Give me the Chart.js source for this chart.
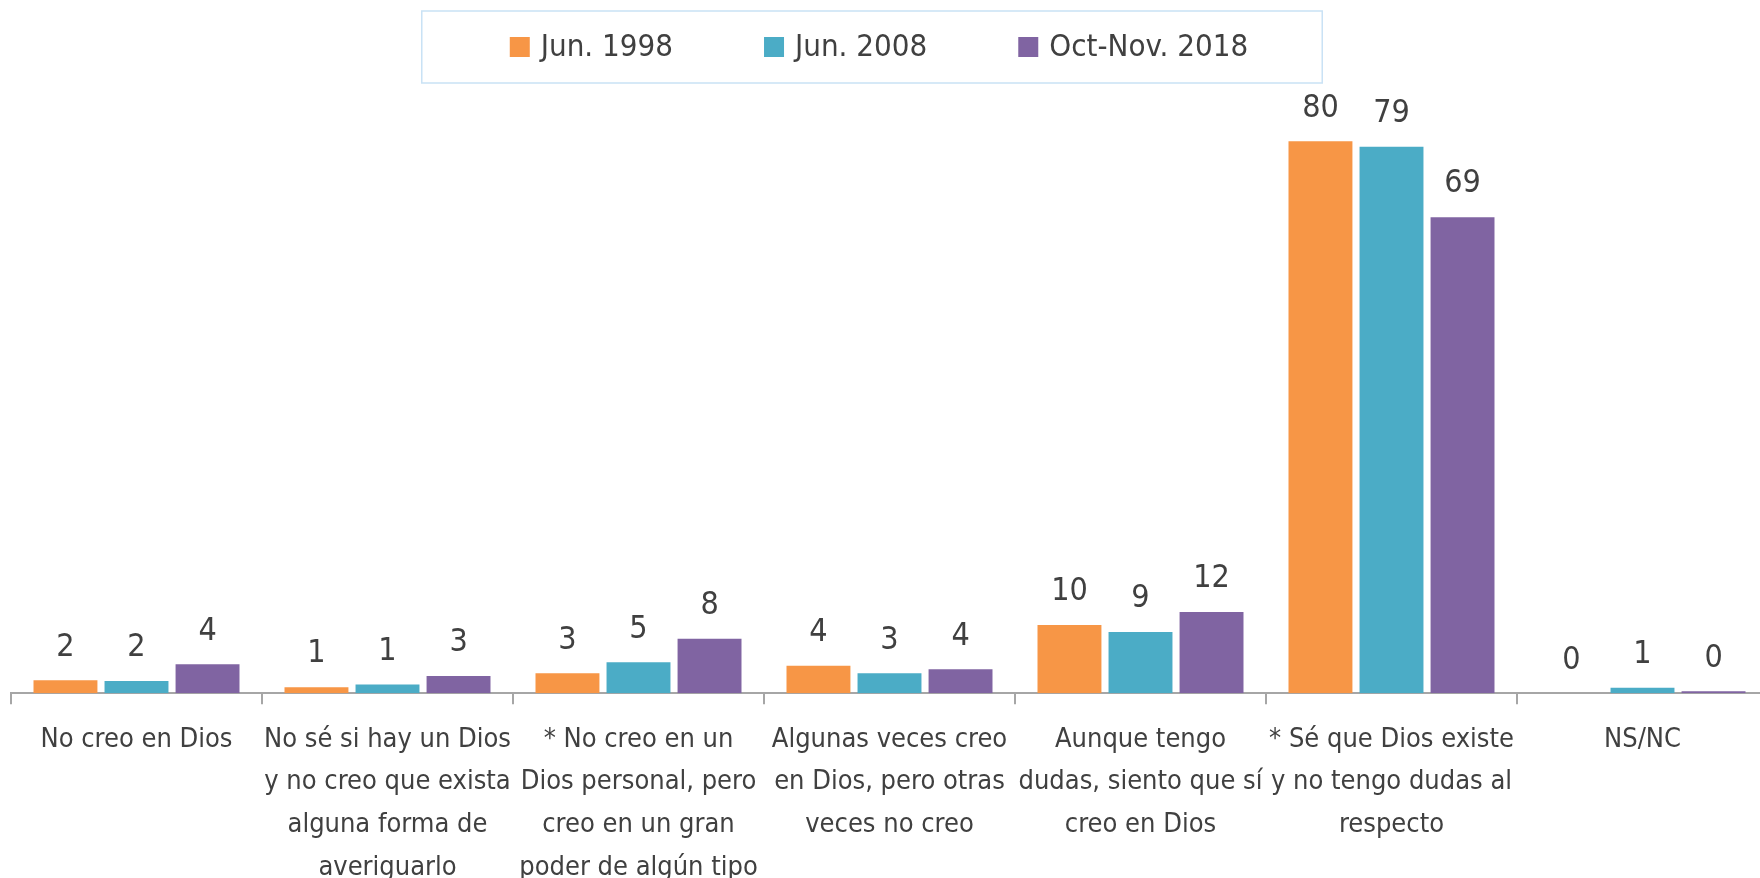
<!DOCTYPE html>
<html>
<head>
<meta charset="utf-8">
<script src="https://cdn.jsdelivr.net/npm/chart.js@4/dist/chart.umd.min.js"></script>
<style>
  html, body { margin: 0; padding: 0; background: #fff; overflow: hidden; width: 1760px; height: 878px; }
  #wrap { position: relative; width: 1770px; height: 903px; }
</style>
</head>
<body>
<div id="wrap"><canvas id="chart" width="1770" height="903"></canvas></div>
<script>
// ---------- data ----------
const categories = [
  ["No creo en Dios"],
  ["No sé si hay un Dios", "y no creo que exista", "alguna forma de", "averiguarlo"],
  ["* No creo en un", "Dios personal, pero", "creo en un gran", "poder de algún tipo"],
  ["Algunas veces creo", "en Dios, pero otras", "veces no creo"],
  ["Aunque tengo", "dudas, siento que sí", "creo en Dios"],
  ["* Sé que Dios existe", "y no tengo dudas al", "respecto"],
  ["NS/NC"]
];
const seriesNames = ["Jun. 1998", "Jun. 2008", "Oct-Nov. 2018"];
const jun1998 = [1.9, 0.9, 2.9, 4.0, 9.9, 80, 0];
const jun2008 = [1.8, 1.3, 4.5, 2.9, 8.9, 79.2, 0.8];
const oct2018 = [4.2, 2.5, 7.9, 3.5, 11.8, 69, 0.3];
const colors = ["#F79646", "#4BACC6", "#8064A2"];

const FONT = "'DejaVu Sans Condensed', 'DejaVu Sans', sans-serif";
const TEXT = "#404040";

// ---------- value labels above bars ----------
const valueLabels = {
  id: "valueLabels",
  afterDatasetsDraw(chart) {
    const ctx = chart.ctx;
    ctx.save();
    ctx.font = "32px " + FONT;
    ctx.fillStyle = TEXT;
    ctx.textAlign = "center";
    ctx.textBaseline = "middle";
    chart.data.datasets.forEach((ds, i) => {
      chart.getDatasetMeta(i).data.forEach((bar, j) => {
        ctx.fillText(Math.round(ds.data[j]), bar.x, bar.y - 33);
      });
    });
    ctx.restore();
  }
};

// ---------- boxed legend at the top ----------
const boxLegend = {
  id: "boxLegend",
  afterDraw(chart) {
    const ctx = chart.ctx;
    ctx.save();
    ctx.font = "31px " + FONT;
    const sq = 20, textGap = 11, itemGap = 91;
    const widths = chart.data.datasets.map(ds => sq + textGap + ctx.measureText(ds.label).width);
    const total = widths.reduce((a, b) => a + b, 0) + itemGap * (widths.length - 1);
    let x = 879 - total / 2;
    const cy = 47;

    ctx.strokeStyle = "#C9E2F5";
    ctx.lineWidth = 1.5;
    ctx.strokeRect(x - 88, 11, total + 162, 72);

    ctx.textBaseline = "middle";
    ctx.textAlign = "left";
    chart.data.datasets.forEach((ds, i) => {
      ctx.fillStyle = ds.backgroundColor;
      ctx.fillRect(x, cy - sq / 2, sq, sq);
      ctx.fillStyle = TEXT;
      ctx.fillText(ds.label, x + sq + textGap, cy + 1);
      x += widths[i] + itemGap;
    });
    ctx.restore();
  }
};

new Chart(document.getElementById("chart"), {
  type: "bar",
  data: {
    labels: categories,
    datasets: [
      { label: seriesNames[0], data: jun1998, backgroundColor: colors[0] },
      { label: seriesNames[1], data: jun2008, backgroundColor: colors[1] },
      { label: seriesNames[2], data: oct2018, backgroundColor: colors[2] }
    ]
  },
  options: {
    responsive: false,
    animation: false,
    datasets: { bar: { categoryPercentage: 0.849, barPercentage: 0.90 } },
    layout: { padding: { left: 11, right: 2, top: 86, bottom: 0 } },
    plugins: {
      legend: { display: false },
      tooltip: { enabled: false }
    },
    scales: {
      x: {
        grid: { offset: true, drawOnChartArea: false, drawTicks: true, tickLength: 11, color: "#A6A6A6", lineWidth: 2 },
        border: { color: "#A6A6A6", width: 2 },
        ticks: {
          font: { family: FONT, size: 27, lineHeight: 1.58 },
          color: TEXT,
          padding: 14,
          autoSkip: false,
          maxRotation: 0
        }
      },
      y: { display: false, min: 0, max: 88 }
    }
  },
  plugins: [valueLabels, boxLegend]
});
</script>
</body>
</html>
